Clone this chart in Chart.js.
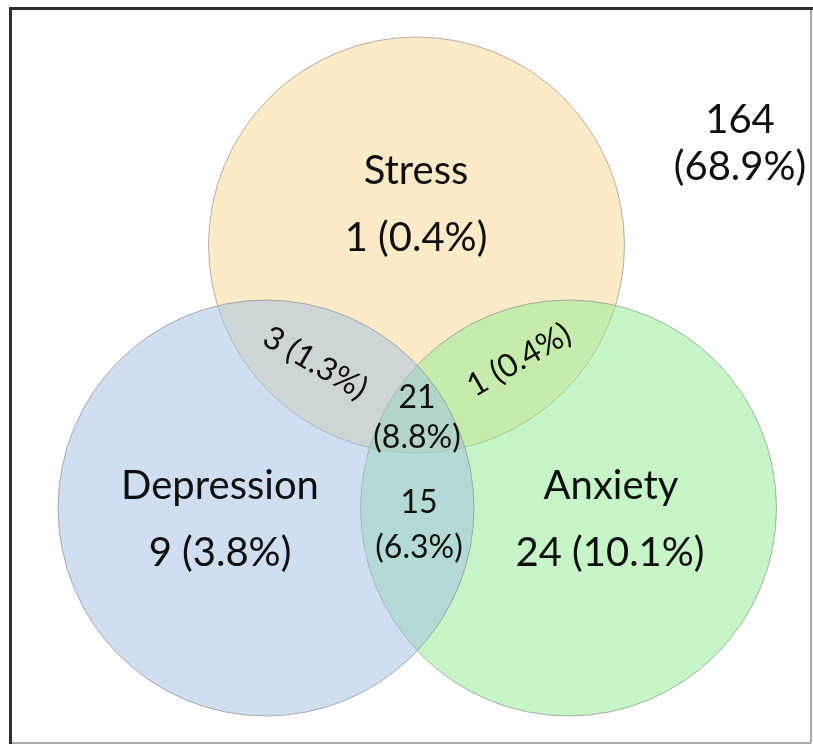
<!DOCTYPE html>
<html>
<head>
<meta charset="utf-8">
<script src="https://cdn.jsdelivr.net/npm/chart.js@4.4.1/dist/chart.umd.min.js"></script>
<style>
  html, body { margin: 0; padding: 0; background: #ffffff; }
  #wrap { width: 813px; height: 744px; position: relative; }
  canvas { display: block; }
</style>
</head>
<body>
<div id="wrap"><canvas id="c" width="813" height="744"></canvas></div>
<script>
// ---------------- DATA ----------------
const categories   = ['Stress', 'Depression', 'Anxiety'];
const onlyCounts   = [1, 9, 24];
const onlyPercents = [0.4, 3.8, 10.1];

const pairNames    = ['Stress & Depression', 'Stress & Anxiety', 'Depression & Anxiety'];
const pairCounts   = [3, 1, 15];
const pairPercents = [1.3, 0.4, 6.3];

const allThreeCount   = [21];
const allThreePercent = [8.8];

const noneCount   = [164];
const nonePercent = [68.9];

// ---------------- LAYOUT (diagram units) ----------------
const VIEW = { w: 813, h: 744 };
const circleRadius = 208;
const circleCenters = {
  Stress:     { x: 416.5, y: 245 },
  Depression: { x: 266,   y: 508 },
  Anxiety:    { x: 568.5, y: 508 }
};
const circleStyle = {
  Stress:     { fill: 'rgba(251,215,145,0.5)', order: 2 },
  Depression: { fill: 'rgba(160,192,228,0.5)', order: 0 },
  Anxiety:    { fill: 'rgba(141,235,145,0.5)', order: 1 }
};
// label anchors: [x, y, rotationDeg]
const labelPos = {
  name:   { Stress: [416, 171], Depression: [220, 486], Anxiety: [611, 486] },
  only:   { Stress: [416, 238], Depression: [220, 553], Anxiety: [610, 553] },
  pair:   [[315, 363, 30], [519, 360, -30], [419, 503, 0]],
  pairPctOffset: 45,
  all:    [417, 398],
  none:   [740, 120]
};
const fonts = {
  big:   '40px Lato, "Open Sans", sans-serif',
  small: '32px Lato, "Open Sans", sans-serif'
};
const textColor = '#0f0f0f';

function pct(v) { return '(' + v.toFixed(1) + '%)'; }

// ---------------- PLUGINS ----------------
const framePlugin = {
  id: 'frame',
  beforeDraw(chart) {
    const c = chart.ctx;
    c.save();
    c.fillStyle = '#ffffff';
    c.fillRect(0, 0, chart.width, chart.height);
    c.restore();
  },
  afterDraw(chart) {
    const c = chart.ctx;
    c.save();
    c.strokeStyle = '#a8a8a8';
    c.lineWidth = 2;
    c.beginPath();
    c.moveTo(811, 8); c.lineTo(811, 743);
    c.moveTo(10, 743); c.lineTo(811, 743);
    c.stroke();
    c.strokeStyle = '#2e2e2e';
    c.lineWidth = 3;
    c.beginPath();
    c.moveTo(10.5, 744); c.lineTo(10.5, 8.5); c.lineTo(813, 8.5);
    c.stroke();
    c.restore();
  }
};

const labelPlugin = {
  id: 'vennLabels',
  afterDatasetsDraw(chart) {
    const c = chart.ctx, xs = chart.scales.x, ys = chart.scales.y;
    const P = (x, y) => [xs.getPixelForValue(x), ys.getPixelForValue(y)];
    c.save();
    c.fillStyle = textColor;
    c.textAlign = 'center';
    c.textBaseline = 'middle';

    c.font = fonts.big;
    categories.forEach((cat, i) => {
      let [x, y] = P(...labelPos.name[cat]);
      c.fillText(cat, x, y);
      [x, y] = P(...labelPos.only[cat]);
      c.fillText(onlyCounts[i] + ' ' + pct(onlyPercents[i]), x, y);
    });

    let [nx, ny] = P(labelPos.none[0], labelPos.none[1]);
    c.fillText(String(noneCount[0]), nx, ny);
    [nx, ny] = P(labelPos.none[0], labelPos.none[1] + 47);
    c.fillText(pct(nonePercent[0]), nx, ny);

    c.font = fonts.small;
    pairCounts.forEach((n, i) => {
      const [lx, ly, rot] = labelPos.pair[i];
      if (rot !== 0) {
        const [x, y] = P(lx, ly);
        c.save();
        c.translate(x, y);
        c.rotate(rot * Math.PI / 180);
        c.fillText(n + ' ' + pct(pairPercents[i]), 0, 0);
        c.restore();
      } else {
        let [x, y] = P(lx, ly);
        c.fillText(String(n), x, y);
        [x, y] = P(lx, ly + labelPos.pairPctOffset);
        c.fillText(pct(pairPercents[i]), x, y);
      }
    });

    let [ax, ay] = P(labelPos.all[0], labelPos.all[1]);
    c.fillText(String(allThreeCount[0]), ax, ay);
    [ax, ay] = P(labelPos.all[0], labelPos.all[1] + 40);
    c.fillText(pct(allThreePercent[0]), ax, ay);

    c.restore();
  }
};

// ---------------- CHART ----------------
const datasets = categories.map(cat => ({
  label: cat,
  data: [{ x: circleCenters[cat].x, y: circleCenters[cat].y }],
  backgroundColor: circleStyle[cat].fill,
  borderColor: 'rgba(120,120,120,0.55)',
  borderWidth: 1,
  order: circleStyle[cat].order,
  clip: false,
  hoverRadius: 0
}));

const chart = new Chart(document.getElementById('c'), {
  type: 'bubble',
  data: { datasets },
  options: {
    responsive: false,
    animation: false,
    events: [],
    layout: { padding: 0, autoPadding: false },
    plugins: { legend: { display: false }, tooltip: { enabled: false } },
    scales: {
      x: { type: 'linear', min: 0, max: VIEW.w, display: false },
      y: { type: 'linear', min: 0, max: VIEW.h, reverse: true, display: false }
    }
  },
  plugins: [framePlugin, labelPlugin]
});

// bubble radius is in pixels: convert the circle radius (diagram units) through the x scale
const xs = chart.scales.x;
const pxRadius = Math.abs(xs.getPixelForValue(circleRadius) - xs.getPixelForValue(0));
chart.data.datasets.forEach(ds => { ds.data[0].r = pxRadius; });
chart.update('none');
</script>
</body>
</html>
